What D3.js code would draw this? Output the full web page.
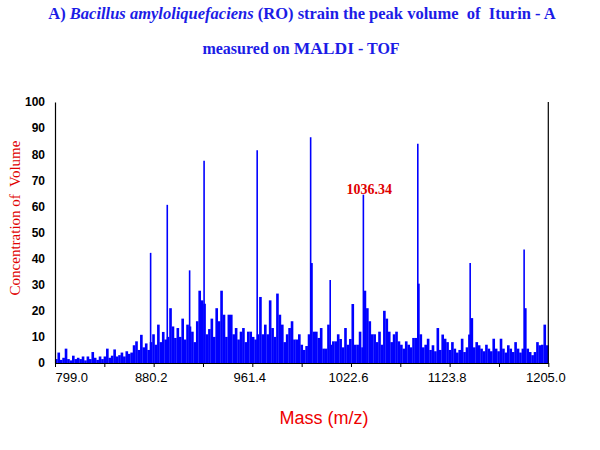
<!DOCTYPE html>
<html>
<head>
<meta charset="utf-8">
<script src="https://cdn.jsdelivr.net/npm/d3@7"></script>
<style>
  body { margin: 0; background: #fff; }
  svg { display: block; }
</style>
</head>
<body>
<div id="container"></div>
<script>
// spectrum floor: one value per 2 m/z bin, starting at 799
const binStart = 799;
const binWidth = 2;
const spectrum = [
  1.5, 4, 1.2, 2, 5.5, 1.5, 1, 2.8, 1.5, 2,
  1.5, 2.5, 1, 2.5, 1.5, 4.2, 2, 1.2, 2.5, 1.5,
  2.5, 5.5, 2, 2.8, 5.2, 2.5, 3, 4, 2.5, 4.5,
  3.5, 4, 6.8, 8.3, 5, 10.8, 6, 7.5, 5, 8,
  11, 7, 14.7, 8, 11.9, 9, 10, 21, 14, 9.6,
  13.4, 10, 17, 9, 14.7, 14, 12, 8, 16, 27.7,
  24, 22.7, 11, 13, 17, 10, 21, 16, 27.7, 18.5,
  10, 18.5, 18.5, 11, 13.4, 9, 12, 13.4, 8, 12,
  12, 10, 9, 11, 25.3, 11, 14.7, 11, 24, 13.4,
  10, 26.6, 18.5, 14.7, 8, 11, 13.4, 16, 9, 9,
  11, 7, 5, 6.5, 11, 38.3, 12, 12, 9.6, 13.4,
  5.5, 5.5, 14.7, 7, 8.3, 8.3, 11, 9.2, 6, 13.4,
  7, 9.2, 22.6, 7, 7, 12, 6, 27.7, 21, 16,
  11, 11, 8, 12, 7, 20, 17, 12, 8, 11,
  12, 8.3, 7, 5.5, 8.3, 7, 6, 9.6, 9.6, 30.4,
  11, 6, 7, 9.3, 5, 6.8, 4.5, 13.4, 5, 10.9,
  9.3, 8, 5, 8, 5.5, 4, 5, 9.3, 4.2, 6,
  10.9, 17.2, 6, 8, 6.8, 5.5, 4.5, 7, 5.5, 4.5,
  9.3, 5.5, 4.5, 9.3, 5.5, 4, 6.8, 5.5, 4.2, 8,
  5.5, 4, 5.5, 21, 5.5, 4.2, 3, 4.2, 8, 6.8,
  7, 14.7, 6.8
];

// tall single lines
const peakMass = [877.7, 891.4, 909.8, 921.7, 965.4, 1009.4, 1025.5, 1052.8, 1097.6, 1140.7, 1185.1];
const peakValue = [42.2, 60.6, 35.5, 77.5, 81.5, 86.5, 31.8, 64.5, 84, 38.3, 43.5];

const endLineMass = 1205;
const endLineValue = 100;

const labelText = "1036.34";
const labelMass = 1052.8;
const labelValue = 64.5;

const xTicks = [799, 880.2, 961.4, 1042.6, 1123.8, 1205];
const xTickLabels = ["799.0", "880.2", "961.4", "1022.6", "1123.8", "1205.0"];
const xMinorTicks = [839.6, 920.8, 1002, 1083.2, 1164.4];
const yTicks = [0, 10, 20, 30, 40, 50, 60, 70, 80, 90, 100];

const width = 600, height = 450;
const blue = "#0000ff";
const serif = "'Liberation Serif', 'Times New Roman', Times, serif";

const svg = d3.select("#container").append("svg")
    .attr("width", width)
    .attr("height", height);

const x = d3.scaleLinear().domain([799, 1205]).range([55, 548.3]);
const y = d3.scaleLinear().domain([0, 100]).range([363, 102]);

// title
const title = svg.append("text")
    .attr("x", 302)
    .attr("y", 19)
    .attr("text-anchor", "middle")
    .style("font-family", serif)
    .style("font-size", "16.5px")
    .style("font-weight", "bold")
    .style("fill", "#1c1ce6");
title.append("tspan").text("A) ");
title.append("tspan").style("font-style", "italic").text("Bacillus amyloliquefaciens");
title.append("tspan").text(" (RO) strain the peak volume\u00a0 of\u00a0 Iturin - A");

const title2 = svg.append("text")
    .attr("x", 301)
    .attr("y", 54)
    .attr("text-anchor", "middle")
    .style("font-family", serif)
    .style("font-size", "16px")
    .style("font-weight", "bold")
    .style("fill", "#1c1ce6");
title2.append("tspan").text("measured on ");
title2.append("tspan").style("font-size", "17.5px").text("MALDI");
title2.append("tspan").text(" - TOF");

// spectrum bars
svg.append("g")
    .selectAll("rect")
    .data(spectrum)
    .enter().append("rect")
    .attr("x", (d, i) => x(binStart + i * binWidth))
    .attr("width", (d, i) => x(binStart + (i + 1) * binWidth) - x(binStart + i * binWidth) + 0.2)
    .attr("y", d => y(d))
    .attr("height", d => y(0) - y(d))
    .style("fill", blue);

// peak lines
svg.append("g")
    .selectAll("line")
    .data(peakMass)
    .enter().append("line")
    .attr("x1", d => x(d))
    .attr("x2", d => x(d))
    .attr("y1", y(0))
    .attr("y2", (d, i) => y(peakValue[i]))
    .style("stroke", blue)
    .style("stroke-width", 1.6);

svg.append("line")
    .attr("x1", x(endLineMass))
    .attr("x2", x(endLineMass))
    .attr("y1", y(0))
    .attr("y2", y(endLineValue))
    .style("stroke", "#000")
    .style("stroke-width", 1.2);

// axes
const xAxis = svg.append("g")
    .attr("transform", "translate(0," + y(0) + ")")
    .call(d3.axisBottom(x)
        .tickValues(xTicks.concat(xMinorTicks))
        .tickSize(4)
        .tickSizeOuter(0)
        .tickPadding(6)
        .tickFormat(d => {
            const k = xTicks.indexOf(d);
            return k >= 0 ? xTickLabels[k] : "";
        }));
xAxis.select(".domain").style("stroke", "#000").style("stroke-width", 1.2);
xAxis.selectAll("text")
    .style("font-family", "Arial, 'Liberation Sans', sans-serif")
    .style("font-size", "13px")
    .style("fill", "#000")
    .attr("text-anchor", d => d === xTicks[0] ? "start" : "middle")
    .attr("dx", d => d === xTicks[0] ? "0" : "-3");

const yAxis = svg.append("g")
    .attr("transform", "translate(" + x(799) + ",0)")
    .call(d3.axisLeft(y)
        .tickValues(yTicks)
        .tickSize(0)
        .tickSizeOuter(0)
        .tickPadding(10));
yAxis.select(".domain").style("stroke", "#000").style("stroke-width", 1.2);
yAxis.selectAll("text")
    .style("font-family", "Arial, 'Liberation Sans', sans-serif")
    .style("font-size", "12px")
    .style("font-weight", "bold")
    .style("fill", "#000");

// peak label
svg.append("text")
    .attr("x", x(labelMass) + 6)
    .attr("y", y(labelValue) - 1)
    .attr("text-anchor", "middle")
    .style("font-family", serif)
    .style("font-size", "14px")
    .style("font-weight", "bold")
    .style("fill", "#e00000")
    .text(labelText);

// axis titles
svg.append("text")
    .attr("transform", "translate(20,218) rotate(-90)")
    .attr("text-anchor", "middle")
    .style("font-family", serif)
    .style("font-size", "15px")
    .style("fill", "#e00000")
    .text("Concentration of\u00a0 Volume");

svg.append("text")
    .attr("x", 324)
    .attr("y", 424)
    .attr("text-anchor", "middle")
    .style("font-family", "Arial, 'Liberation Sans', sans-serif")
    .style("font-size", "18px")
    .style("fill", "#ee0000")
    .text("Mass (m/z)");
</script>
</body>
</html>
